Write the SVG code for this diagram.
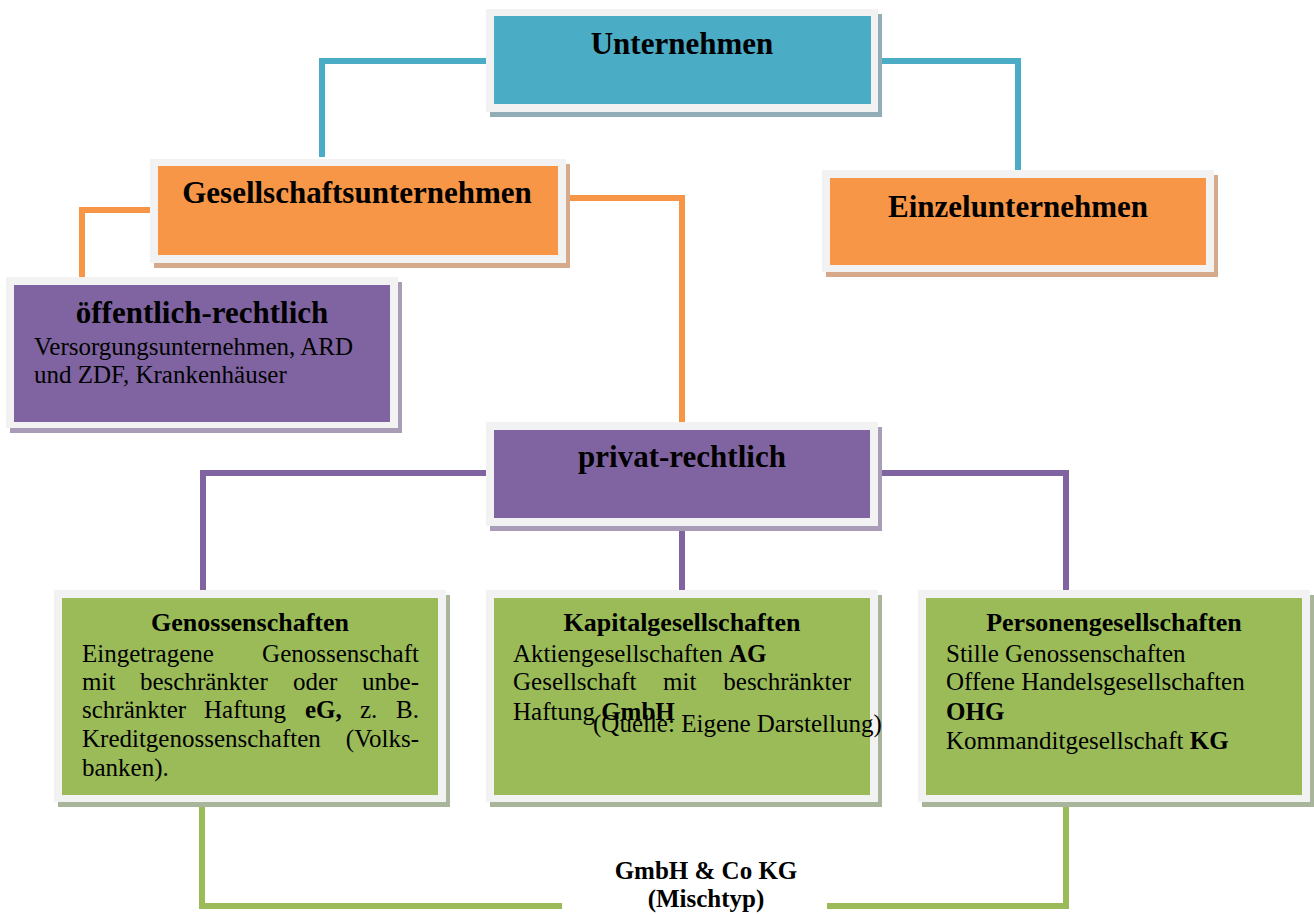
<svg xmlns="http://www.w3.org/2000/svg" width="1314" height="915" viewBox="0 0 1314 915">
<style>
.frame{fill:#f2f2f2}
.sh-blue{fill:#93adb7}
.sh-orange{fill:#d6a98a}
.sh-purple{fill:#a99cb6}
.sh-green{fill:#a9b59a}
.blue{fill:#4bacc6}
.orange{fill:#f79646}
.purple{fill:#8064a2}
.green{fill:#9bbb59}
text{font-family:"Liberation Serif","Times New Roman",serif;fill:#000}
.h1{font-size:31px;font-weight:bold;text-anchor:middle}
.h2{font-size:26px;font-weight:bold;text-anchor:middle}
.b{font-size:25px}
.bb{font-weight:bold}
.end{text-anchor:end}
.c{fill:none;stroke-width:6;stroke-linejoin:miter}
</style>
<rect width="1314" height="915" fill="#ffffff"/>
<g id="connectors">
<path class="c" stroke="#4bacc6" d="M489,61 H322 V157"/>
<path class="c" stroke="#4bacc6" d="M876,61 H1018 V170"/>
<path class="c" stroke="#f79646" d="M152,210 H82 V278"/>
<path class="c" stroke="#f79646" d="M566,198 H682 V423"/>
<path class="c" stroke="#8064a2" d="M488,473 H203 V591"/>
<path class="c" stroke="#8064a2" d="M876,473 H1066 V591"/>
<path class="c" stroke="#8064a2" d="M682,526 V591"/>
<path class="c" stroke="#9bbb59" d="M202,795 V906 H562"/>
<path class="c" stroke="#9bbb59" d="M827,906 H1066 V795"/>
</g>
<g id="unternehmen">
<rect class="sh-blue" x="490" y="14" width="392" height="103"/>
<rect class="frame" x="486" y="9" width="392" height="103"/>
<rect class="blue" x="494" y="16" width="377" height="88"/>
<text class="h1" x="682" y="54">Unternehmen</text>
</g>
<g id="gesellschaftsunternehmen">
<rect class="sh-orange" x="154" y="164" width="416" height="104"/>
<rect class="frame" x="150" y="159" width="416" height="104"/>
<rect class="orange" x="158" y="166" width="400" height="89"/>
<text class="h1" x="357" y="203">Gesellschaftsunternehmen</text>
</g>
<g id="einzelunternehmen">
<rect class="sh-orange" x="826" y="175" width="392" height="102"/>
<rect class="frame" x="822" y="170" width="392" height="102"/>
<rect class="orange" x="830" y="178" width="376" height="87"/>
<text class="h1" x="1018" y="217">Einzelunternehmen</text>
</g>
<g id="oeffentlich">
<rect class="sh-purple" x="10" y="282" width="392" height="151"/>
<rect class="frame" x="6" y="277" width="392" height="151"/>
<rect class="purple" x="14" y="285" width="376" height="137"/>
<text class="h1" x="202" y="323">öffentlich-rechtlich</text>
<text class="b" x="34" y="355">Versorgungsunternehmen, ARD</text>
<text class="b" x="34" y="383">und ZDF, Krankenhäuser</text>
</g>
<g id="privat">
<rect class="sh-purple" x="490" y="427" width="392" height="104"/>
<rect class="frame" x="486" y="422" width="392" height="104"/>
<rect class="purple" x="494" y="430" width="376" height="88"/>
<text class="h1" x="682" y="467">privat-rechtlich</text>
</g>
<g id="genossenschaften">
<rect class="sh-green" x="58" y="595" width="392" height="212"/>
<rect class="frame" x="54" y="590" width="392" height="212"/>
<rect class="green" x="62" y="598" width="376" height="197"/>
<text class="h2" x="250" y="631">Genossenschaften</text>
<text class="b" x="82" y="662">Eingetragene</text>
<text class="b end" x="419" y="662">Genossenschaft</text>
<text class="b" x="82" y="690">mit</text>
<text class="b" x="140" y="690">beschränkter</text>
<text class="b" x="293" y="690">oder</text>
<text class="b end" x="419" y="690">unbe-</text>
<text class="b" x="82" y="718">schränkter</text>
<text class="b" x="204" y="718">Haftung</text>
<text class="b bb" x="305" y="718">eG,</text>
<text class="b" x="360" y="718">z.</text>
<text class="b end" x="419" y="718">B.</text>
<text class="b" x="82" y="747">Kreditgenossenschaften</text>
<text class="b end" x="419" y="747">(Volks-</text>
<text class="b" x="82" y="776">banken).</text>
</g>
<g id="kapitalgesellschaften">
<rect class="sh-green" x="490" y="595" width="392" height="212"/>
<rect class="frame" x="486" y="590" width="392" height="212"/>
<rect class="green" x="494" y="598" width="376" height="197"/>
<text class="h2" x="682" y="631">Kapitalgesellschaften</text>
<text class="b" x="513" y="662">Aktiengesellschaften <tspan class="bb">AG</tspan></text>
<text class="b" x="513" y="690">Gesellschaft</text>
<text class="b" x="663" y="690">mit</text>
<text class="b end" x="851" y="690">beschränkter</text>
<text class="b" x="513" y="720">Haftung <tspan class="bb">GmbH</tspan></text>
<text x="593" y="732" style="font-size:25px">(Quelle: Eigene Darstellung)</text>
</g>
<g id="personengesellschaften">
<rect class="sh-green" x="922" y="595" width="392" height="212"/>
<rect class="frame" x="918" y="590" width="392" height="212"/>
<rect class="green" x="926" y="598" width="376" height="197"/>
<text class="h2" x="1114" y="631">Personengesellschaften</text>
<text class="b" x="946" y="662">Stille Genossenschaften</text>
<text class="b" x="946" y="690">Offene Handelsgesellschaften</text>
<text class="b bb" x="946" y="720">OHG</text>
<text class="b" x="946" y="749">Kommanditgesellschaft <tspan class="bb">KG</tspan></text>
</g>
<g id="mischtyp">
<text class="h2" x="706" y="879" style="font-size:25px">GmbH &amp; Co KG</text>
<text class="h2" x="706" y="907" style="font-size:25px">(Mischtyp)</text>
</g>
</svg>
